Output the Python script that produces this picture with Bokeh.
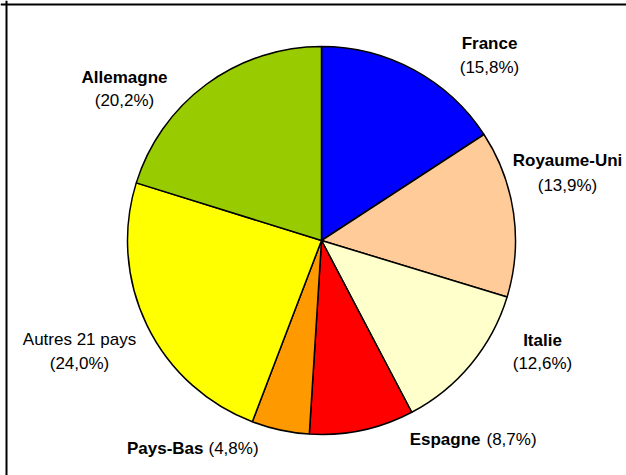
import math
from bokeh.plotting import figure
from bokeh.models import Range1d, ColumnDataSource, Span
from bokeh.core.properties import value
from bokeh.embed import file_html
from bokeh.resources import INLINE

# ---- data ----
countries = ["France", "Royaume-Uni", "Italie", "Espagne", "Pays-Bas", "Autres 21 pays", "Allemagne"]
shares = [15.8, 13.9, 12.6, 8.7, 4.8, 24.0, 20.2]
colors = ["#0000FF", "#FFCC99", "#FFFFCC", "#FF0000", "#FF9900", "#FFFF00", "#99CC00"]
bold_name = [True, True, True, True, True, False, True]
labels = ["(" + f"{s:.1f}".replace(".", ",") + "%)" for s in shares]

W, H = 626, 475
OFF = 0


def dx(px):
    return px - OFF


def dy(py):
    return H - (py - OFF)


p = figure(width=W, height=H, output_backend="svg", toolbar_location=None,
           x_range=Range1d(0, W), y_range=Range1d(0, H),
           min_border=0, min_border_left=0, min_border_right=0,
           min_border_top=0, min_border_bottom=0)
p.axis.visible = False
p.grid.visible = False
p.outline_line_color = None
p.background_fill_color = "white"
p.border_fill_color = "white"

# pie, starting at 12 o'clock, clockwise
cx, cy, R = dx(321), dy(240), 194
total = sum(shares)
starts, ends = [], []
cum = 0.0
for s in shares:
    starts.append(math.pi / 2 - 2 * math.pi * cum / total)
    cum += s
    ends.append(math.pi / 2 - 2 * math.pi * cum / total)

src = ColumnDataSource(dict(start=starts, end=ends, color=colors, name=countries, share=shares))
p.wedge(x=cx, y=cy, radius=R, radius_units="screen", start_angle="start", end_angle="end",
        direction="clock", fill_color="color", line_color="black", line_width=1.5, source=src)

FONT = value("Liberation Sans")
FS = "17px"

# label layout (page coordinates): two-line labels
two_line = {
    "France": (489, 43, 67),
    "Royaume-Uni": (567, 160, 185),
    "Italie": (542, 340, 363),
    "Autres 21 pays": (79, 339, 363),
    "Allemagne": (124, 77, 100),
}
# one-line labels: (name right edge, value left edge, y)
one_line = {
    "Espagne": (480, 486, 439),
    "Pays-Bas": (203, 208, 448),
}

for i, name in enumerate(countries):
    weight = "bold" if bold_name[i] else "normal"
    if name in two_line:
        x, y1, y2 = two_line[name]
        p.text(x=[dx(x)], y=[dy(y1)], text=[name], text_font=FONT, text_font_size=FS,
               text_font_style=weight, text_align="center", text_baseline="middle",
               text_color="black")
        p.text(x=[dx(x)], y=[dy(y2)], text=[labels[i]], text_font=FONT, text_font_size=FS,
               text_align="center", text_baseline="middle", text_color="black")
    else:
        xr, xl, y = one_line[name]
        p.text(x=[dx(xr)], y=[dy(y)], text=[name], text_font=FONT, text_font_size=FS,
               text_font_style=weight, text_align="right", text_baseline="middle",
               text_color="black")
        p.text(x=[dx(xl)], y=[dy(y)], text=[labels[i]], text_font=FONT, text_font_size=FS,
               text_align="left", text_baseline="middle", text_color="black")

# chart-area border (left and top edges visible)
p.add_layout(Span(location=dx(6), dimension="height", line_color="black", line_width=2))
p.add_layout(Span(location=dy(4), dimension="width", line_color="black", line_width=2))

open("out.html", "w").write(file_html(p, INLINE))
